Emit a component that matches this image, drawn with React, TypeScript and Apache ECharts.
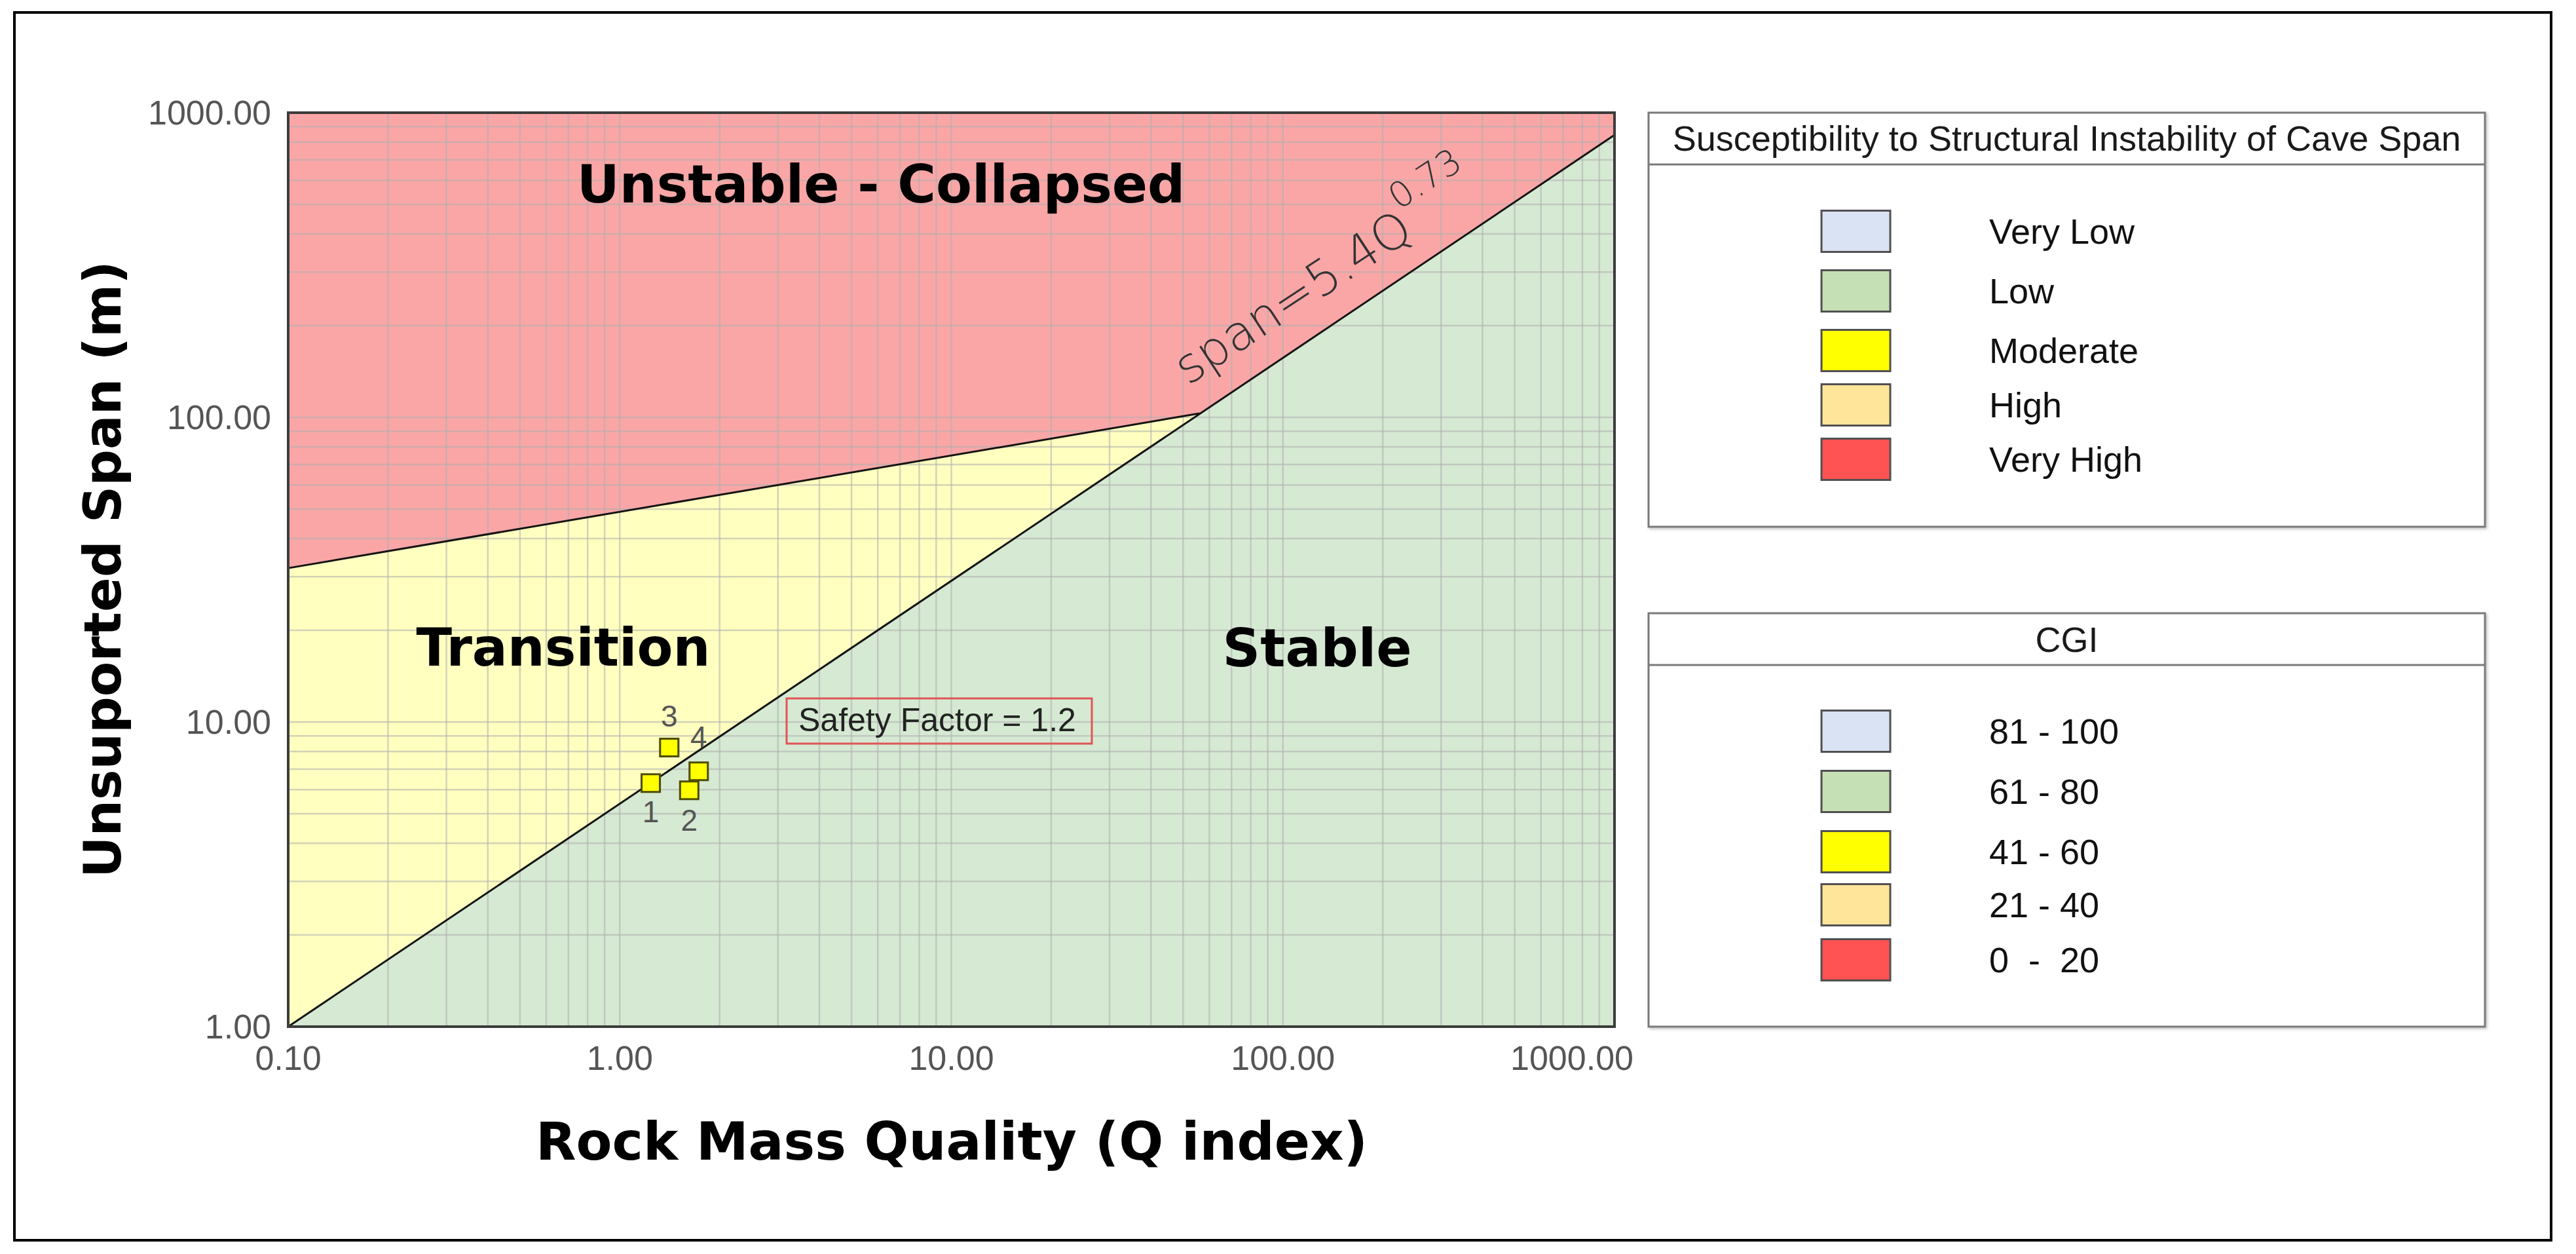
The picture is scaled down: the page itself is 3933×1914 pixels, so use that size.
import React, { useEffect, useRef } from 'react';
import * as echarts from 'echarts';

// ---------------- data ----------------
const X_MIN = 0.1;
const X_MAX = 1000;
const Y_MIN = 1;
const Y_MAX = 1000;

// log-paper grid values (Q index and span)
const xGridValues = [
  0.2, 0.3, 0.4, 0.5, 0.6, 0.7, 0.8, 0.9, 1,
  2, 3, 4, 5, 6, 7, 8, 9, 10,
  20, 30, 40, 50, 60, 70, 80, 90, 100,
  200, 300, 400, 500, 600, 700, 800, 900,
];
const yGridValues = [
  2, 3, 4, 5, 6, 7, 8, 9, 10,
  20, 30, 40, 50, 60, 70, 80, 90, 100,
  200, 300, 400, 500, 600, 700, 800, 900,
];

// boundary lines [Q, span]
const spanLine = [[0.1, 1.0], [1000, 845]]; // span = 5.4 Q^0.73
const transitionUpper = [[0.1, 32], [56, 103]];

// zones [Q, span]
const unstableZone = [[0.1, 1000], [1000, 1000], [1000, 845], [56, 103], [0.1, 32]];
const transitionZone = [[0.1, 32], [56, 103], [0.1, 1]];
const stableZone = [[0.1, 1], [1000, 1], [1000, 845]];

// case points
const pointIds = ['1', '2', '3', '4'];
const pointQ = [1.24, 1.62, 1.41, 1.73];
const pointSpan = [6.3, 5.97, 8.24, 6.89];

// legends
const susceptibilityTitle = 'Susceptibility to Structural Instability of Cave Span';
const susceptibilityLabels = ['Very Low', 'Low', 'Moderate', 'High', 'Very High'];
const cgiTitle = 'CGI';
const cgiLabels = ['81 - 100', '61 - 80', '41 - 60', '21 - 40', '0  -  20'];

// ---------------- styles / layout ----------------
const W = 3933;
const H = 1914;
const GRID = { left: 440, top: 172, width: 2025, height: 1395 };
const LABEL_FONT = '"Liberation Sans", Arial, Helvetica, sans-serif';
const BOLD_FONT = '"DejaVu Sans", Verdana, sans-serif';
const CLASS_COLORS = ['#dae3f3', '#c5e0b4', '#ffff00', '#ffe599', '#ff5353'];
const ZONE_COLORS = { unstable: '#faa6a6', transition: '#ffffc0', stable: '#d6e9d3' };
const GRID_LINE = 'rgba(175,175,175,0.55)';
const POINT_LABEL_POS = ['bottom', 'bottom', 'top', 'top'];
const POINT_LABEL_DIST = [6, 8, 10, 14];

const LEGEND_X = 2517;
const LEGEND_W = 1277;
const LEGEND1 = { top: 172, height: 632, sep: 251, titleY: 211, rows: [353, 444, 535, 618, 701] };
const LEGEND2 = { top: 936, height: 631, sep: 1015, titleY: 976, rows: [1116, 1208, 1300, 1381, 1465] };
const SWATCH_X = 2781;
const SWATCH_W = 105;
const SWATCH_H = 63;
const LEGEND_TEXT_X = 3037;

function zoneSeries(name: string, verts: number[][], color: string) {
  return {
    type: 'custom',
    name,
    coordinateSystem: 'cartesian2d',
    silent: true,
    z: 1,
    clip: true,
    data: [verts[0]],
    renderItem: (_params: any, api: any) => ({
      type: 'polygon',
      shape: { points: verts.map((v) => api.coord(v)) },
      style: { fill: color },
    }),
  };
}

function legendGroup(cfg: typeof LEGEND1, title: string, labels: string[]) {
  const children: any[] = [
    {
      type: 'rect',
      shape: { x: LEGEND_X, y: cfg.top, width: LEGEND_W, height: cfg.height },
      style: { fill: '#fff', stroke: '#7a7a7a', lineWidth: 3, shadowColor: 'rgba(0,0,0,0.25)', shadowBlur: 4, shadowOffsetX: 2, shadowOffsetY: 2 },
    },
    {
      type: 'line',
      shape: { x1: LEGEND_X, y1: cfg.sep, x2: LEGEND_X + LEGEND_W, y2: cfg.sep },
      style: { stroke: '#7a7a7a', lineWidth: 3 },
    },
    {
      type: 'text',
      x: LEGEND_X + LEGEND_W / 2,
      y: cfg.titleY,
      style: { text: title, font: `54px ${LABEL_FONT}`, fill: '#1a1a1a', align: 'center', verticalAlign: 'middle' },
    },
  ];
  labels.forEach((lab, i) => {
    const cy = cfg.rows[i];
    children.push({
      type: 'rect',
      shape: { x: SWATCH_X, y: cy - SWATCH_H / 2, width: SWATCH_W, height: SWATCH_H },
      style: { fill: CLASS_COLORS[i], stroke: '#505050', lineWidth: 3 },
    });
    children.push({
      type: 'text',
      x: LEGEND_TEXT_X,
      y: cy,
      style: { text: lab, font: `54px ${LABEL_FONT}`, fill: '#111', align: 'left', verticalAlign: 'middle' },
    });
  });
  return { type: 'group', children };
}

export default function App() {
  const ref = useRef<HTMLDivElement>(null);

  useEffect(() => {
    if (!ref.current) return;
    const chart = echarts.init(ref.current, null, { renderer: 'svg', width: W, height: H });

    const gridLineSeries = (values: number[], vertical: boolean) => ({
      type: 'custom',
      coordinateSystem: 'cartesian2d',
      silent: true,
      z: 2,
      data: values.map((v) => (vertical ? [v, Y_MIN] : [X_MIN, v])),
      renderItem: (_params: any, api: any) => {
        const v = api.value(vertical ? 0 : 1);
        const p1 = vertical ? api.coord([v, Y_MIN]) : api.coord([X_MIN, v]);
        const p2 = vertical ? api.coord([v, Y_MAX]) : api.coord([X_MAX, v]);
        return {
          type: 'line',
          shape: { x1: p1[0], y1: p1[1], x2: p2[0], y2: p2[1] },
          style: { stroke: GRID_LINE, lineWidth: 2.5 },
        };
      },
    });

    const boundary = (data: number[][]) => ({
      type: 'line',
      data,
      showSymbol: false,
      symbol: 'none',
      silent: true,
      z: 4,
      lineStyle: { color: '#141414', width: 3 },
    });

    const tickLabel = {
      fontSize: 52,
      fontFamily: LABEL_FONT,
      color: '#555',
    };

    const option: any = {
      animation: false,
      backgroundColor: '#ffffff',
      grid: { left: GRID.left, top: GRID.top, width: GRID.width, height: GRID.height, show: false },
      xAxis: {
        type: 'log',
        logBase: 10,
        min: X_MIN,
        max: X_MAX,
        axisLine: { show: false },
        axisTick: { show: false },
        splitLine: { show: false },
        axisLabel: {
          ...tickLabel,
          margin: 22,
          formatter: (v: number) => {
            const s = Number(v).toFixed(2);
            return v >= X_MAX * 0.999 ? `{m|${s}}` : s;
          },
          rich: {
            m: { ...tickLabel, width: 318, align: 'left' },
          },
        },
      },
      yAxis: {
        type: 'log',
        logBase: 10,
        min: Y_MIN,
        max: Y_MAX,
        axisLine: { show: false },
        axisTick: { show: false },
        splitLine: { show: false },
        axisLabel: {
          ...tickLabel,
          margin: 26,
          formatter: (v: number) => Number(v).toFixed(2),
        },
      },
      series: [
        zoneSeries('Unstable - Collapsed', unstableZone, ZONE_COLORS.unstable),
        zoneSeries('Transition', transitionZone, ZONE_COLORS.transition),
        zoneSeries('Stable', stableZone, ZONE_COLORS.stable),
        gridLineSeries(xGridValues, true),
        gridLineSeries(yGridValues, false),
        boundary(spanLine),
        boundary(transitionUpper),
        {
          type: 'scatter',
          z: 6,
          symbol: 'rect',
          symbolSize: [28, 27],
          itemStyle: { color: '#ffff00', borderColor: '#4d4d00', borderWidth: 3, opacity: 1 },
          data: pointIds.map((id, i) => ({
            value: [pointQ[i], pointSpan[i]],
            label: {
              show: true,
              formatter: id,
              position: POINT_LABEL_POS[i],
              distance: POINT_LABEL_DIST[i],
              fontSize: 46,
              fontFamily: LABEL_FONT,
              color: '#555',
            },
          })),
        },
      ],
      graphic: [
        {
          type: 'rect',
          z: 100,
          silent: true,
          shape: { x: 22, y: 19, width: 3873, height: 1874 },
          style: { fill: 'transparent', stroke: '#000', lineWidth: 4 },
        },
        {
          type: 'rect',
          z: 100,
          silent: true,
          shape: { x: GRID.left, y: GRID.top, width: GRID.width, height: GRID.height },
          style: { fill: 'transparent', stroke: '#3c3c3c', lineWidth: 4 },
        },
        {
          type: 'text', z: 100, x: 1345, y: 281,
          style: { text: 'Unstable - Collapsed', font: `bold 80px ${BOLD_FONT}`, fill: '#000', align: 'center', verticalAlign: 'middle' },
        },
        {
          type: 'text', z: 100, x: 860, y: 988,
          style: { text: 'Transition', font: `bold 80px ${BOLD_FONT}`, fill: '#000', align: 'center', verticalAlign: 'middle' },
        },
        {
          type: 'text', z: 100, x: 2011, y: 989,
          style: { text: 'Stable', font: `bold 80px ${BOLD_FONT}`, fill: '#000', align: 'center', verticalAlign: 'middle' },
        },
        {
          type: 'rect', z: 100, silent: true,
          shape: { x: 1201, y: 1066, width: 466, height: 69 },
          style: { fill: 'transparent', stroke: '#e05555', lineWidth: 3 },
        },
        {
          type: 'text', z: 100, x: 1219, y: 1099,
          style: { text: 'Safety Factor = 1.2', font: `50px ${LABEL_FONT}`, fill: '#222', align: 'left', verticalAlign: 'middle' },
        },
        {
          type: 'text', z: 100, x: 1820, y: 598, rotation: 0.58,
          style: {
            text: '{a|span=5.4Q}{b|0.73}',
            align: 'left',
            verticalAlign: 'bottom',
            rich: {
              a: { fontSize: 74, fontFamily: BOLD_FONT, fontWeight: 200, fill: '#333', lineHeight: 104, verticalAlign: 'bottom' },
              b: { fontSize: 54, fontFamily: BOLD_FONT, fontWeight: 200, fill: '#333', lineHeight: 54, verticalAlign: 'top' },
            },
          },
        },
        {
          type: 'text', z: 100, x: 1453, y: 1742,
          style: { text: 'Rock Mass Quality (Q index)', font: `bold 80px ${BOLD_FONT}`, fill: '#000', align: 'center', verticalAlign: 'middle' },
        },
        {
          type: 'text', z: 100, x: 157, y: 869, rotation: Math.PI / 2,
          style: { text: 'Unsuported Span (m)', font: `bold 78px ${BOLD_FONT}`, fill: '#000', align: 'center', verticalAlign: 'middle' },
        },
        legendGroup(LEGEND1, susceptibilityTitle, susceptibilityLabels),
        legendGroup(LEGEND2, cgiTitle, cgiLabels),
      ],
    };

    chart.setOption(option);
    return () => chart.dispose();
  }, []);

  return (
    <div
      ref={ref}
      style={{ position: 'fixed', left: 0, top: 0, width: W, height: H, background: '#fff' }}
    />
  );
}
